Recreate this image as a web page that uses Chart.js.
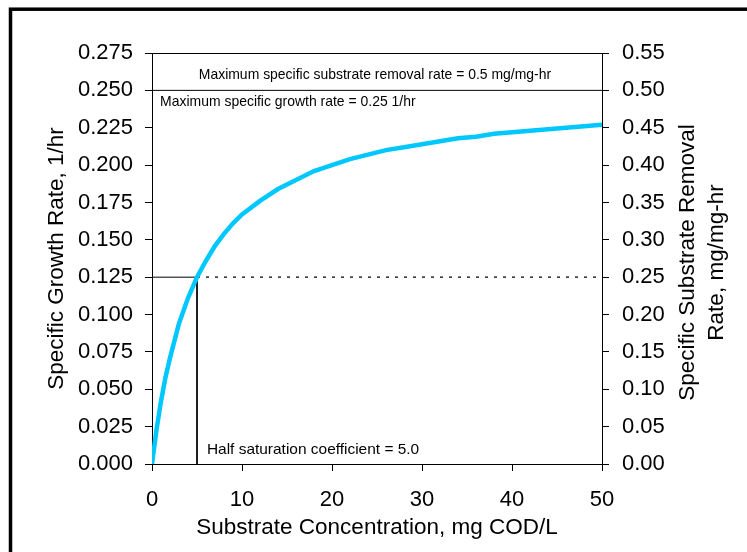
<!DOCTYPE html>
<html>
<head>
<meta charset="utf-8">
<script src="https://cdn.jsdelivr.net/npm/chart.js@4.4.1/dist/chart.umd.min.js"></script>
<style>
    html, body { margin: 0; padding: 0; background: #fff; }
    #wrap { width: 747px; height: 552px; }
</style>
</head>
<body>
<div id="wrap"><canvas id="monodChart" width="747" height="552"></canvas></div>
<script>
// substrate concentration (mg COD/L) and specific growth rate (1/hr)
const substrate = [0, 0.5, 1, 1.5, 2, 3, 4, 5, 6, 7, 8, 9, 10, 12, 14, 16, 18, 20, 22, 24, 26, 28, 30, 32, 34, 36, 38, 40, 42, 44, 46, 48, 50];
const growthRate = [0, 0.023, 0.042, 0.058, 0.071, 0.094, 0.111, 0.125, 0.136, 0.146, 0.154, 0.161, 0.167, 0.176, 0.184, 0.190, 0.196, 0.200, 0.204, 0.207, 0.210, 0.212, 0.214, 0.216, 0.218, 0.219, 0.221, 0.222, 0.223, 0.224, 0.225, 0.226, 0.227];

const muMax = 0.25;        // 1/hr
const halfSat = 5.0;       // mg COD/L
const halfRate = 0.125;    // muMax / 2

const leftTicks = [0, 0.025, 0.05, 0.075, 0.1, 0.125, 0.15, 0.175, 0.2, 0.225, 0.25, 0.275];
const rightTicks = [0, 0.05, 0.1, 0.15, 0.2, 0.25, 0.3, 0.35, 0.4, 0.45, 0.5, 0.55];
const xTicks = [0, 10, 20, 30, 40, 50];

const notes = [
    { text: "Maximum specific substrate removal rate = 0.5 mg/mg-hr", x: 5.2, y: 0.2605, size: 15, squeeze: 0.93 },
    { text: "Maximum specific growth rate = 0.25 1/hr", x: 0.9, y: 0.2425, size: 15, squeeze: 0.93 },
    { text: "Half saturation coefficient = 5.0", x: 6.1, y: 0.0095, size: 15, squeeze: 1.03 }
];
const rightTitle = ["Specific Substrate Removal", "Rate, mg/mg-hr"];

const FONT = "'Liberation Sans', Arial, sans-serif";

const curve = substrate.map((s, i) => ({ x: s, y: growthRate[i] }));

const extras = {
    id: 'extras',
    afterDraw(chart) {
        const ctx = chart.ctx;
        const area = chart.chartArea;
        const xs = chart.scales.x, ys = chart.scales.y;
        ctx.save();

        // outer frame
        ctx.strokeStyle = '#000';
        ctx.lineWidth = 3.5;
        ctx.strokeRect(10.5, 9.2, 1000, 1000);

        // top edge of plot box
        ctx.lineWidth = 1;
        ctx.beginPath();
        ctx.moveTo(area.left, Math.round(area.top) + 0.5);
        ctx.lineTo(area.right, Math.round(area.top) + 0.5);
        ctx.stroke();

        // annotations
        ctx.fillStyle = '#000';
        ctx.textBaseline = 'middle';
        ctx.textAlign = 'left';
        notes.forEach(n => {
            ctx.save();
            ctx.translate(xs.getPixelForValue(n.x), ys.getPixelForValue(n.y));
            ctx.scale(n.squeeze, 1);
            ctx.font = n.size + 'px ' + FONT;
            ctx.fillText(n.text, 0, 0);
            ctx.restore();
        });

        // right axis title, reads bottom to top
        ctx.save();
        ctx.translate(area.right + 100, (area.top + area.bottom) / 2 + 4);
        ctx.rotate(-Math.PI / 2);
        ctx.textAlign = 'center';
        ctx.font = '22.5px ' + FONT;
        ctx.fillText(rightTitle[0], 0, -14.5);
        ctx.fillText(rightTitle[1], 0, 14.5);
        ctx.restore();

        ctx.restore();
    }
};

const ctx = document.getElementById('monodChart').getContext('2d');
new Chart(ctx, {
    type: 'scatter',
    data: {
        datasets: [
            {
                label: 'Specific growth rate',
                data: curve,
                showLine: true,
                borderColor: '#00C8FF',
                borderWidth: 4.5,
                pointRadius: 0,
                tension: 0,
                yAxisID: 'y',
                order: 0
            },
            {
                label: 'max growth',
                data: [{ x: 0, y: muMax }, { x: 50, y: muMax }],
                showLine: true,
                borderColor: '#000',
                borderWidth: 1,
                pointRadius: 0,
                yAxisID: 'y',
                order: 1
            },
            {
                label: 'half sat solid',
                data: [{ x: 0, y: halfRate }, { x: halfSat, y: halfRate }, { x: halfSat, y: 0 }],
                showLine: true,
                borderColor: '#000',
                borderWidth: 1,
                pointRadius: 0,
                yAxisID: 'y',
                order: 1
            },
            {
                label: 'half sat dotted',
                data: [{ x: halfSat, y: halfRate }, { x: 50, y: halfRate }],
                showLine: true,
                borderColor: '#000',
                borderWidth: 1.3,
                borderDash: [3, 6],
                pointRadius: 0,
                yAxisID: 'y',
                order: 1
            }
        ]
    },
    options: {
        responsive: false,
        animation: false,
        layout: { padding: { top: 53, left: 0, right: 0, bottom: 0 } },
        plugins: {
            legend: { display: false },
            tooltip: { enabled: false }
        },
        scales: {
            x: {
                type: 'linear',
                min: 0,
                max: 50,
                afterBuildTicks: s => { s.ticks = xTicks.map(v => ({ value: v })); },
                afterFit: s => { s.height = 88; },
                grid: { drawOnChartArea: false, tickLength: 7, color: '#000' },
                border: { color: '#000', width: 1 },
                ticks: { color: '#000', padding: 16, maxRotation: 0, font: { family: FONT, size: 22 } },
                title: {
                    display: true,
                    text: 'Substrate Concentration, mg COD/L',
                    color: '#000',
                    font: { family: FONT, size: 22.5 },
                    padding: { top: 0, bottom: 11 }
                }
            },
            y: {
                type: 'linear',
                position: 'left',
                min: 0,
                max: 0.275,
                afterBuildTicks: s => { s.ticks = leftTicks.map(v => ({ value: v })); },
                afterFit: s => { s.width = 152; },
                grid: { drawOnChartArea: false, tickLength: 7, color: '#000' },
                border: { color: '#000', width: 1 },
                ticks: {
                    color: '#000',
                    padding: 12,
                    font: { family: FONT, size: 22 },
                    callback: v => v.toFixed(3)
                },
                title: {
                    display: true,
                    text: 'Specific Growth Rate, 1/hr',
                    color: '#000',
                    font: { family: FONT, size: 22.5 },
                    padding: { top: 43, bottom: 0 }
                }
            },
            y1: {
                type: 'linear',
                position: 'right',
                min: 0,
                max: 0.55,
                afterBuildTicks: s => { s.ticks = rightTicks.map(v => ({ value: v })); },
                afterFit: s => { s.width = 145; },
                grid: { drawOnChartArea: false, tickLength: 7, color: '#000' },
                border: { color: '#000', width: 1 },
                ticks: {
                    color: '#000',
                    padding: 13,
                    font: { family: FONT, size: 22 },
                    callback: v => v.toFixed(2)
                }
            }
        }
    },
    plugins: [extras]
});
</script>
</body>
</html>
